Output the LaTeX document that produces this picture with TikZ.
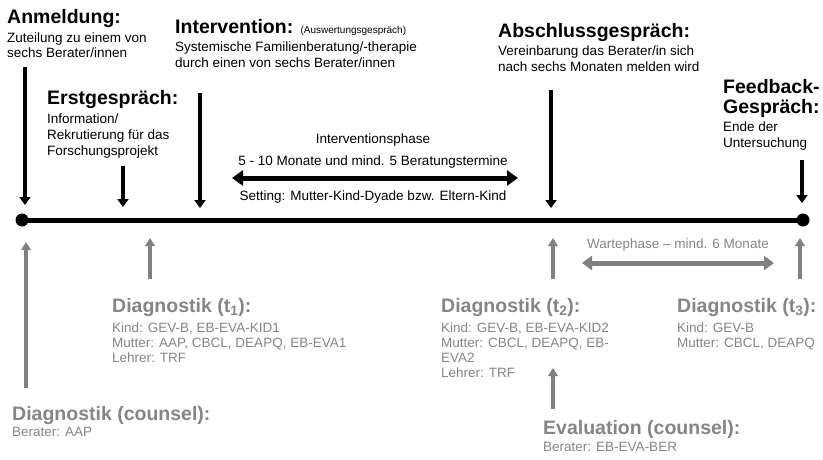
\documentclass[tikz,border=0pt]{standalone}
\usepackage{fontspec}
\setmainfont{Liberation Sans}
\usetikzlibrary{arrows.meta}
\definecolor{grayarrow}{HTML}{808080}
\definecolor{graytext}{HTML}{858585}
\begin{document}
\begin{tikzpicture}[x=1pt,y=-1pt,
  head/.style={anchor=base west,inner sep=0pt,font=\fontsize{19.5}{22}\selectfont\bfseries},
  body/.style={anchor=base west,inner sep=0pt,font=\fontsize{13.5}{15.5}\selectfont},
  cbody/.style={anchor=base,inner sep=0pt,font=\fontsize{13.5}{15.5}\selectfont},
  grayt/.style={text=graytext},
  downarr/.style={line width=4pt,-{Triangle[width=11pt,length=8pt]}},
  uparr/.style={draw=grayarrow,line width=4.5pt,-{Triangle[width=9.5pt,length=8pt]}},
  dot/.style={circle,fill=black,inner sep=0pt,minimum size=13pt},
  bidir/.style={line width=5pt,{Triangle[width=15pt,length=11pt]}-{Triangle[width=15pt,length=11pt]}}
]
\useasboundingbox (0,0) rectangle (823,459);

% timeline
\node[dot] (d0) at (22,220) {};
\node[dot] (d1) at (803,220) {};
\draw[line width=5pt] (d0.center) -- (d1.center);

% top texts
\node[head] (anm) at (7,23) {Anmeldung:};
\node[body] (anm1) at (7,42) {Zuteilung zu einem von};
\node[body] (anm2) at (7,57) {sechs Berater/innen};

\node[head] (int) at (175,33) {Intervention: {\fontsize{10}{12}\selectfont\mdseries (Auswertungsgespräch)}};
\node[body] (int1) at (175,51) {Systemische Familienberatung/-therapie};
\node[body] (int2) at (175,67) {durch einen von sechs Berater/innen};

\node[head] (abs) at (498,37) {Abschlussgespräch:};
\node[body] (abs1) at (498,55) {Vereinbarung das Berater/in sich};
\node[body] (abs2) at (498,71) {nach sechs Monaten melden wird};

\node[head] (ers) at (47,104) {Erstgespräch:};
\node[body] (ers1) at (47,123) {Information/};
\node[body] (ers2) at (47,139) {Rekrutierung für das};
\node[body] (ers3) at (47,155) {Forschungsprojekt};

\node[head] (fb) at (723,93) {Feedback-};
\node[head] (fb0) at (723,113) {Gespräch:};
\node[body] (fb1) at (723,131) {Ende der};
\node[body] (fb2) at (723,147) {Untersuchung};

% intervention phase
\node[cbody] (ip0) at (373,143) {Interventionsphase};
\node[cbody] (ip1) at (373,165) {5 - 10 Monate und mind. 5 Beratungstermine};
\node[cbody] (ip2) at (373,200) {Setting: Mutter-Kind-Dyade bzw. Eltern-Kind};
\coordinate (ipl) at (232,178);
\coordinate (ipr) at (518,178);
\draw[bidir] (ipl) -- (ipr);

% black down arrows
\coordinate (a1s) at (25,67);  \coordinate (a1e) at (25,205);
\coordinate (a2s) at (123,166); \coordinate (a2e) at (123,207);
\coordinate (a3s) at (200,93);  \coordinate (a3e) at (200,208);
\coordinate (a4s) at (551,90);  \coordinate (a4e) at (551,208);
\coordinate (a5s) at (802,160); \coordinate (a5e) at (802,203);
\draw[downarr] (a1s) -- (a1e);
\draw[downarr] (a2s) -- (a2e);
\draw[downarr] (a3s) -- (a3e);
\draw[downarr] (a4s) -- (a4e);
\draw[downarr] (a5s) -- (a5e);

% gray up arrows
\coordinate (g1s) at (26,388);  \coordinate (g1e) at (26,242);
\coordinate (g2s) at (150,279); \coordinate (g2e) at (150,238);
\coordinate (g3s) at (553,279); \coordinate (g3e) at (553,238);
\coordinate (g4s) at (800,279); \coordinate (g4e) at (800,238);
\coordinate (g5s) at (553,409); \coordinate (g5e) at (553,368);
\draw[uparr] (g1s) -- (g1e);
\draw[uparr] (g2s) -- (g2e);
\draw[uparr] (g3s) -- (g3e);
\draw[uparr] (g4s) -- (g4e);
\draw[uparr] (g5s) -- (g5e);

% waiting phase
\node[cbody,grayt] (wp) at (678,248) {Wartephase – mind. 6 Monate};
\coordinate (wpl) at (582,263);
\coordinate (wpr) at (774,263);
\draw[draw=grayarrow,line width=5pt,{Triangle[width=14pt,length=10pt]}-{Triangle[width=14pt,length=10pt]}] (wpl) -- (wpr);

% diagnostics
\node[head,grayt] (t1) at (112,312) {Diagnostik (t\textsubscript{1}):};
\node[body,grayt] (t1a) at (112,332) {Kind: GEV-B, EB-EVA-KID1};
\node[body,grayt] (t1b) at (112,347) {Mutter: AAP, CBCL, DEAPQ, EB-EVA1};
\node[body,grayt] (t1c) at (112,362) {Lehrer: TRF};

\node[head,grayt] (t2) at (441,312) {Diagnostik (t\textsubscript{2}):};
\node[body,grayt] (t2a) at (441,332) {Kind: GEV-B, EB-EVA-KID2};
\node[body,grayt] (t2b) at (441,347) {Mutter: CBCL, DEAPQ, EB-};
\node[body,grayt] (t2c) at (441,362) {EVA2};
\node[body,grayt] (t2d) at (441,377) {Lehrer: TRF};

\node[head,grayt] (t3) at (677,312) {Diagnostik (t\textsubscript{3}):};
\node[body,grayt] (t3a) at (677,332) {Kind: GEV-B};
\node[body,grayt] (t3b) at (677,347) {Mutter: CBCL, DEAPQ};

\node[head,grayt] (dc) at (12,420) {Diagnostik (counsel):};
\node[body,grayt] (dc1) at (12,436) {Berater: AAP};

\node[head,grayt] (ev) at (543,434) {Evaluation (counsel):};
\node[body,grayt] (ev1) at (543,451) {Berater: EB-EVA-BER};
\end{tikzpicture}
\end{document}
